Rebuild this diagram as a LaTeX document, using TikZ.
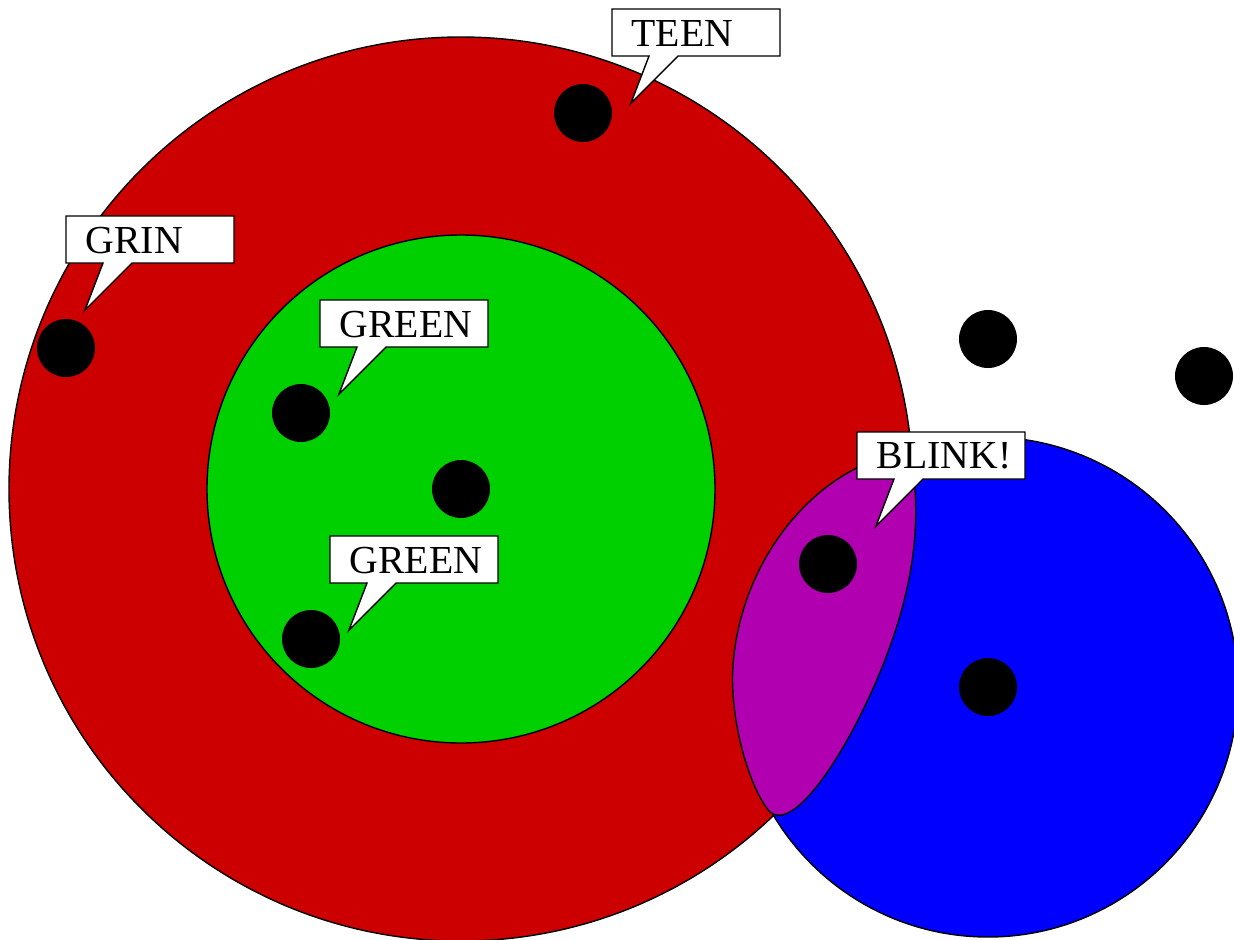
\documentclass[tikz,border=0pt]{standalone}
\usepackage{fontspec}
\setmainfont{Liberation Serif}
\usetikzlibrary{calc}
\definecolor{outerred}{RGB}{204,0,0}
\definecolor{innergreen}{RGB}{0,208,0}
\definecolor{sideblue}{RGB}{0,0,255}
\definecolor{lensmag}{RGB}{176,0,176}
\tikzset{
  ring/.style={draw=black, fill=#1},
  dot/.style={circle, fill=black, inner sep=0pt, minimum size=5.8mm},
  tag/.style={rectangle, anchor=north west, align=left, text width=13mm,
              inner xsep=1.9mm, inner ysep=0pt, minimum height=4.7mm},
}

\begin{document}
\begin{tikzpicture}[x=0.1mm, y=-0.1mm, line width=0.4pt, font=\fontsize{11.3}{13}\selectfont]
\useasboundingbox (0,0) rectangle (1234,940);
% circles
\filldraw[ring=outerred] (461,489) circle[radius=45.2mm];
\filldraw[ring=innergreen] (461,489) circle[radius=25.4mm];
\filldraw[ring=sideblue] (988,687) circle[radius=25mm];
% overlap
\filldraw[ring=lensmag] (912,462) .. controls (924,540) and (907,620) .. (862,712)
  .. controls (834,769) and (792,830) .. (770,812)
  .. controls (750,790) and (729,720) .. (733,665)
  .. controls (740,570) and (800,490) .. (870,462)
  .. controls (890,455) and (905,455) .. cycle;
% dots
\foreach \name/\x/\y in {teendot/583/113, grindot/66/348, greendota/301/413,
    middot/461/489, greendotb/311/639, freedota/988/339, freedotb/1204/376,
    blinkdot/828/564, bluedot/988/687} {
  \node[dot] (\name) at (\x,\y) {};
}
% speech tags
\foreach \name/\x/\y/\txt in {teen/612/9/TEEN, grin/66/216/GRIN, greena/320/300/GREEN,
    greenb/330/536/GREEN, blink/857/432/BLINK!} {
  \filldraw[fill=white] (\x,\y) -- ++(168,0) -- ++(0,47) -- ++(-102,0) -- ++(-47,47)
    -- ++(18,-47) -- ++(-37,0) -- cycle;
  \node[tag] (\name) at (\x,\y) {\txt};
}
\end{tikzpicture}
\end{document}
